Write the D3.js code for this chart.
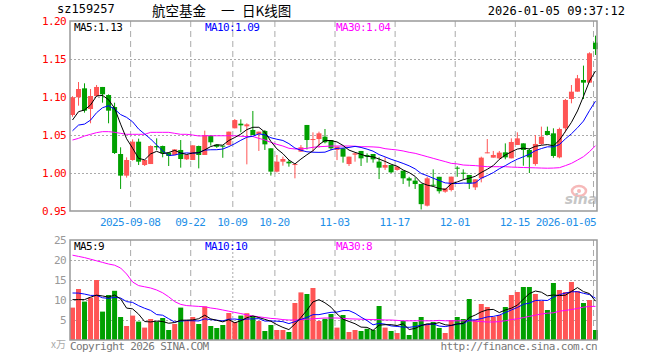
<!DOCTYPE html>
<html lang="zh-CN">
<head>
<meta charset="UTF-8">
<title>sz159257 日K线图</title>
<script src="https://cdn.jsdelivr.net/npm/d3@7/dist/d3.min.js"></script>
<style>
    body { margin: 0; background: #fff; }
    svg text { font-family: "DejaVu Sans Mono", "Liberation Mono", monospace; }
    .small { font-size: 11px; letter-spacing: -0.6px; }
</style>
</head>
<body>
<script>
// daily candles, 2025-08-25 .. 2026-01-05 (88 trading days)
var open  = [1.0763,1.0996,1.1114,1.0842,1.1013,1.1132,1.1026,1.0868,1.025,0.9965,
             1.0171,1.0412,1.0105,1.0118,1.0355,1.0355,1.0268,1.0237,1.0303,1.018,
             1.0171,1.0355,1.0237,1.0491,1.0375,1.036,1.0369,1.0588,1.0649,1.0614,
             1.0566,1.0513,1.0553,1.0325,1.0018,1.0149,1.0149,1.0105,1.0281,1.0632,
             1.0434,1.0447,1.0478,1.0434,1.0303,1.0324,1.0118,1.0241,1.029,1.0237,
             1.025,1.015,1.007,1.0105,1.004,1.003,0.993,0.990,0.9855,0.957,
             0.9846,0.995,0.9754,0.9776,1.007,1.0004,0.9974,0.9811,0.993,1.026,
             1.0202,1.0193,1.0272,1.0193,1.0369,1.039,1.0303,1.0118,1.0382,1.0553,
             1.0522,1.0206,1.0588,1.0974,1.107,1.1224,1.1189,1.1715];
var high  = [1.101,1.1197,1.118,1.1105,1.1158,1.1132,1.1035,1.0925,1.0338,1.0206,
             1.0443,1.0452,1.0171,1.0364,1.0456,1.036,1.0268,1.0311,1.0434,1.0237,
             1.0364,1.036,1.0557,1.0491,1.038,1.036,1.0544,1.071,1.0706,1.0654,
             1.0816,1.0544,1.0566,1.0325,1.0237,1.0215,1.0171,1.0118,1.0368,1.0632,
             1.0535,1.0544,1.0579,1.0434,1.0346,1.0324,1.0215,1.0268,1.029,1.0259,
             1.025,1.0206,1.0206,1.0105,1.0092,1.003,0.995,0.9943,0.9855,0.9952,
             1.0048,0.995,0.9798,0.9952,1.009,1.0048,0.9974,0.9917,1.0215,1.0447,
             1.029,1.029,1.039,1.0456,1.0535,1.039,1.0325,1.05,1.061,1.061,
             1.0588,1.0597,1.0974,1.1158,1.129,1.1413,1.1588,1.1807];
var low   = [1.074,1.0886,1.0794,1.0654,1.1004,1.0925,1.0654,1.025,0.979,0.9939,
             1.0162,1.0105,1.0092,1.0118,1.030,1.0206,1.0092,1.0237,1.007,1.0171,
             1.0171,1.0061,1.0237,1.036,1.033,1.020,1.0364,1.0588,1.0535,1.0114,
             1.050,1.029,1.0303,0.9966,1.0009,1.0096,1.0083,0.993,1.0281,1.031,
             1.0281,1.0334,1.039,1.030,1.017,1.0136,1.0092,1.0149,1.0092,1.0136,
             1.0136,0.992,1.004,1.0,1.0031,0.9855,0.982,0.979,0.952,0.956,
             0.982,0.973,0.974,0.9758,0.995,0.9917,0.979,0.9776,0.9877,1.026,
             1.0202,1.018,1.018,1.0193,1.0369,1.0096,1.0,1.0096,1.0369,1.05,
             1.020,1.0193,1.0535,1.0917,1.107,1.0974,1.1189,1.1553];
var close = [1.0996,1.1105,1.082,1.1013,1.1132,1.1035,1.082,1.0263,0.9965,1.0171,
             1.0412,1.0149,1.0171,1.0355,1.0338,1.0259,1.0224,1.0311,1.0184,1.0237,
             1.0364,1.0237,1.050,1.0404,1.0345,1.0346,1.0544,1.0697,1.0627,1.064,
             1.050,1.0544,1.0377,1.0018,1.0149,1.0184,1.0127,1.0118,1.0338,1.0434,
             1.0447,1.0522,1.0404,1.0325,1.0346,1.0215,1.0215,1.0259,1.0193,1.0215,
             1.018,1.007,1.0105,1.0009,1.0083,0.993,0.990,0.9855,0.959,0.993,
             0.9842,0.976,0.9798,0.9952,1.006,0.999,0.9864,0.9917,1.0202,1.0272,
             1.0237,1.0268,1.0206,1.0408,1.0456,1.0303,1.0206,1.0382,1.0478,1.05,
             1.0224,1.0579,1.0961,1.107,1.1246,1.1189,1.1575,1.163];
// volume, 万
var volume = [8.1,12.75,9.6,10.6,15,7.1,11.25,12.3,5.75,3.5,
              6.1,4.6,3.1,5.25,4.6,5.5,2.5,4,8.1,4.75,
              5.75,4,8.4,3.5,3,3.75,6.75,4.5,6.1,6.7,
              6,4.75,2.25,3.75,2.5,2.5,2,9.25,11.9,11.5,
              13,4.75,5.3,6.5,3.1,6.25,2,2.5,2.25,2.8,
              2.5,8.5,3.1,2.25,1.75,4.75,1.25,4.5,5.75,4,
              4.5,3,1.75,5,5.75,5.25,10.25,5,9,8.25,
              5.75,6.25,8.25,11.25,12,13.25,13.25,11.5,9.75,7.5,
              14.25,12.5,12,14.5,12.25,9.25,10,2.5];
// nine sessions before the window, estimated from where MA5/MA10 start
var prevClose  = [1.0355,1.069,1.049,1.016,1.0375,1.0555,1.071,1.0683,1.0541];
var prevVolume = [13,12,14,15,13,12.75,9.6,7.6,12.45];
// MA30
var ma30Price = [1.0434,1.0456,1.0487,1.0509,1.0531,1.0544,1.0544,1.0535,1.0522,1.0509,
                 1.0509,1.0509,1.0509,1.0535,1.0535,1.0535,1.0535,1.0522,1.0509,1.0509,
                 1.050,1.0487,1.049,1.049,1.049,1.049,1.049,1.049,1.0483,1.048,
                 1.048,1.0456,1.0434,1.0403,1.0377,1.0355,1.0325,1.0316,1.0316,1.0325,
                 1.0338,1.0346,1.035,1.0355,1.0355,1.0355,1.0355,1.0352,1.0346,1.0346,
                 1.0343,1.0338,1.032,1.0311,1.0303,1.029,1.0272,1.0259,1.0237,1.0215,
                 1.0193,1.0171,1.015,1.0127,1.012,1.0105,1.0101,1.0097,1.009,1.0083,
                 1.0083,1.0083,1.0083,1.0078,1.0075,1.0072,1.007,1.0068,1.0065,1.0063,
                 1.0065,1.007,1.0097,1.0127,1.017,1.0215,1.028,1.036];
var ma30Volume = [21.2,20.9,20.6,20.2,19.8,19.4,19.0,18.7,18.0,16.5,
                  14.5,13.6,13.3,13.0,12.5,11.8,10.8,9.6,8.9,8.6,
                  8.5,8.4,8.3,8.0,7.8,7.5,7.2,6.9,6.6,6.3,
                  6.0,5.8,5.6,5.4,5.3,5.1,5.0,5.0,5.1,5.2,
                  5.3,5.4,5.5,5.5,5.5,5.4,5.3,5.25,5.2,5.15,
                  5.1,5.1,5.0,5.0,4.9,4.8,4.8,4.8,4.8,4.8,
                  4.8,4.9,4.8,4.8,4.8,4.8,4.8,4.7,4.6,4.5,
                  4.5,4.6,4.8,5.1,5.3,5.6,5.9,6.2,6.5,6.7,
                  6.8,7.2,7.4,7.6,7.9,8.2,8.4,8.4];

var dateTicks  = [10, 20, 27, 34, 44, 54, 64, 74, 87];
var dateLabels = ["2025-09-08","09-22","10-09","10-20","11-03","11-17","12-01","12-15","2026-01-05"];
var priceTicks = [0.95, 1.00, 1.05, 1.10, 1.15, 1.20];
var volTicks   = [0, 5, 10, 15, 20, 25];

var w = 660, h = 360;
var left = 70, right = 597;
var mTop = 21, mBottom = 211;
var vTop = 240, vBottom = 340;

var red = "#ff5555", green = "#00a000";

var svg = d3.select("body").append("svg")
    .attr("width", w)
    .attr("height", h);

var xScale = d3.scaleBand()
    .domain(d3.range(close.length))
    .range([left, left + 6 * close.length])
    .paddingInner(1 / 6)
    .paddingOuter(0);

var yScale = d3.scaleLinear().domain([0.95, 1.20]).range([mBottom, mTop]);
var vScale = d3.scaleLinear().domain([0, 25]).range([vBottom, vTop]);

// moving average with the sessions before the window prepended
function movingAvg(prev, arr, n) {
    var all = prev.concat(arr);
    return arr.map(function(d, i) {
        var end = i + prev.length;
        return d3.mean(all.slice(end - n + 1, end + 1));
    });
}
var ma5 = movingAvg(prevClose, close, 5);
var ma10 = movingAvg(prevClose, close, 10);
var vma5 = movingAvg(prevVolume, volume, 5);
var vma10 = movingAvg(prevVolume, volume, 10);

function isUp(i) { return close[i] >= open[i]; }
function cx(i) { return xScale(i) + xScale.bandwidth() / 2; }

// ---- header
svg.append("text").attr("x", 57).attr("y", 13).attr("font-size", "12px").text("sz159257");
[["航空基金", 152], ["一", 221], ["日K线图", 242]].forEach(function(t) {
    svg.append("text").attr("x", t[1]).attr("y", 16).attr("font-size", "13.5px")
        .style("font-family", "'Noto Sans CJK SC', sans-serif")
        .text(t[0]);
});
svg.append("text").attr("x", 625).attr("y", 15).attr("font-size", "12px")
    .attr("text-anchor", "end").text("2026-01-05 09:37:12");

// ---- grids
function drawPanel(y0, y1, ticks, scale, dottedIdx) {
    var g = svg.append("g");
    g.selectAll("line.h")
        .data(ticks.slice(1, -1))
        .enter().append("line")
        .attr("x1", left).attr("x2", right)
        .attr("y1", function(d) { return Math.round(scale(d)) + 0.5; })
        .attr("y2", function(d) { return Math.round(scale(d)) + 0.5; })
        .attr("stroke", "#aaa")
        .attr("stroke-dasharray", "2,2");
    g.selectAll("line.v")
        .data(dateTicks)
        .enter().append("line")
        .attr("x1", function(d) { return xScale(d) + 0.5; })
        .attr("x2", function(d) { return xScale(d) + 0.5; })
        .attr("y1", y0).attr("y2", y1)
        .attr("stroke", "#aaa")
        .attr("stroke-dasharray", function(d) { return d === dottedIdx ? "2,2" : "6,4"; });
    return g;
}
drawPanel(mTop, mBottom, priceTicks, yScale, -1);
drawPanel(vTop, vBottom, volTicks, vScale, 27);

// ---- axis labels
svg.selectAll("text.py")
    .data(priceTicks)
    .enter().append("text")
    .attr("class", "small")
    .attr("x", 66)
    .attr("y", function(d) { return yScale(d) + 4; })
    .attr("text-anchor", "end")
    .attr("fill", "#ff0000")
    .text(function(d) { return d.toFixed(2); });

svg.selectAll("text.vy")
    .data(volTicks.slice(1))
    .enter().append("text")
    .attr("class", "small")
    .attr("x", 66)
    .attr("y", function(d) { return vScale(d) + 4; })
    .attr("text-anchor", "end")
    .attr("fill", "#999")
    .text(function(d) { return d; });
svg.append("text").attr("x", 66).attr("y", 348).attr("text-anchor", "end")
    .attr("font-size", "10px").attr("fill", "#aaa")
    .style("font-family", "'Noto Sans CJK SC', sans-serif").text("x万");

svg.selectAll("text.dx")
    .data(dateTicks)
    .enter().append("text")
    .attr("class", "small")
    .attr("x", function(d, i) { return i === dateTicks.length - 1 ? right - 1 : xScale(d); })
    .attr("y", 226)
    .attr("text-anchor", function(d, i) { return i === dateTicks.length - 1 ? "end" : "middle"; })
    .attr("fill", "#1e8fe8")
    .text(function(d, i) { return dateLabels[i]; });

// ---- candles
var candles = svg.append("g");
candles.selectAll("line")
    .data(close)
    .enter().append("line")
    .attr("x1", function(d, i) { return cx(i); })
    .attr("x2", function(d, i) { return cx(i); })
    .attr("y1", function(d, i) { return yScale(high[i]); })
    .attr("y2", function(d, i) { return yScale(low[i]); })
    .attr("stroke", function(d, i) { return isUp(i) ? red : green; });
candles.selectAll("rect")
    .data(close)
    .enter().append("rect")
    .attr("x", function(d, i) { return xScale(i); })
    .attr("width", xScale.bandwidth())
    .attr("y", function(d, i) { return yScale(Math.max(open[i], close[i])); })
    .attr("height", function(d, i) {
        return Math.max(1, Math.abs(yScale(open[i]) - yScale(close[i])));
    })
    .attr("fill", function(d, i) { return isUp(i) ? red : green; });

// ---- volume bars
svg.append("g").selectAll("rect")
    .data(volume)
    .enter().append("rect")
    .attr("x", function(d, i) { return xScale(i); })
    .attr("width", xScale.bandwidth())
    .attr("y", function(d) { return vScale(d); })
    .attr("height", function(d) { return vBottom - vScale(d); })
    .attr("fill", function(d, i) { return isUp(i) ? red : green; });

// ---- MA lines
function drawLine(values, scale, color) {
    var line = d3.line()
        .x(function(d, i) { return cx(i); })
        .y(function(d) { return scale(d); });
    svg.append("path")
        .datum(values)
        .attr("d", line)
        .attr("fill", "none")
        .attr("stroke", color)
        .attr("stroke-width", 1);
}
drawLine(ma30Price, yScale, "#ff00ff");
drawLine(ma10, yScale, "#0000ff");
drawLine(ma5, yScale, "#000000");
drawLine(ma30Volume, vScale, "#ff00ff");
drawLine(vma10, vScale, "#0000ff");
drawLine(vma5, vScale, "#000000");

// ---- legends
var legends = [
    { y: 31, items: [["MA5:1.13", "#000", 74], ["MA10:1.09", "#0000ff", 205], ["MA30:1.04", "#ff00ff", 336]] },
    { y: 250, items: [["MA5:9", "#000", 74], ["MA10:10", "#0000ff", 205], ["MA30:8", "#ff00ff", 336]] }
];
legends.forEach(function(lg) {
    lg.items.forEach(function(it) {
        svg.append("text").attr("class", "small").attr("x", it[2]).attr("y", lg.y)
            .attr("fill", it[1]).text(it[0]);
    });
});

// ---- sina mark
var mark = svg.append("g").attr("opacity", 0.55);
mark.append("ellipse").attr("cx", 579).attr("cy", 191).attr("rx", 7).attr("ry", 5)
    .attr("fill", "none").attr("stroke", "#f08080").attr("stroke-width", 2.5);
mark.append("circle").attr("cx", 579).attr("cy", 191).attr("r", 2).attr("fill", "#f08080");
mark.append("text").attr("x", 581).attr("y", 204).attr("text-anchor", "middle")
    .attr("font-size", "14px").attr("font-weight", "bold").attr("font-style", "italic")
    .style("font-family", "'DejaVu Sans', sans-serif")
    .attr("fill", "#999").text("sina");

// ---- borders
[[mTop, mBottom], [vTop, vBottom]].forEach(function(p) {
    svg.append("rect")
        .attr("x", left).attr("y", p[0])
        .attr("width", right - left).attr("height", p[1] - p[0])
        .attr("fill", "none").attr("stroke", "#999").attr("stroke-width", 1.5);
});

// ---- footer
svg.append("text").attr("class", "small").attr("x", 70).attr("y", 350)
    .attr("fill", "#777").text("Copyright 2026 SINA.COM");
svg.append("text").attr("class", "small").attr("x", 597).attr("y", 350)
    .attr("text-anchor", "end").attr("fill", "#777").text("http://finance.sina.com.cn");
</script>
</body>
</html>
